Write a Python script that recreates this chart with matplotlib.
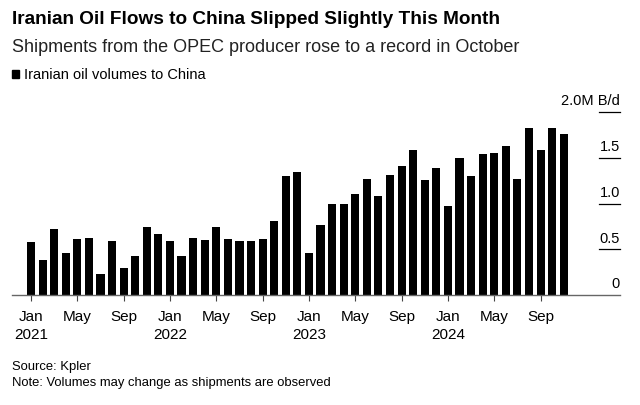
import matplotlib.pyplot as plt
import numpy as np

plt.rcParams['font.family'] = ['Liberation Sans', 'DejaVu Sans']

# monthly Iranian oil volumes to China, Jan 2021 - Nov 2024 (M b/d)
vol_2021 = [0.58, 0.38, 0.72, 0.46, 0.61, 0.62, 0.23, 0.59, 0.30, 0.43, 0.74, 0.67]
vol_2022 = [0.59, 0.43, 0.62, 0.60, 0.74, 0.61, 0.59, 0.59, 0.61, 0.81, 1.30, 1.34]
vol_2023 = [0.46, 0.76, 1.00, 1.00, 1.10, 1.27, 1.08, 1.31, 1.41, 1.59, 1.26, 1.39]
vol_2024 = [0.97, 1.50, 1.30, 1.54, 1.55, 1.63, 1.27, 1.82, 1.58, 1.82, 1.76]
volumes = vol_2021 + vol_2022 + vol_2023 + vol_2024

tick_pos = list(range(0, 47, 4))
tick_labels = ['Jan\n2021', 'May', 'Sep', 'Jan\n2022', 'May', 'Sep',
               'Jan\n2023', 'May', 'Sep', 'Jan\n2024', 'May', 'Sep']
y_ticks = [0, 0.5, 1.0, 1.5, 2.0]
y_labels = ['0', '0.5', '1.0', '1.5', '2.0M B/d']

fig = plt.figure(figsize=(6.4, 4.06), dpi=100)
ax = fig.add_axes([12 / 640, 110 / 406, 608 / 640, 183 / 406])

x = np.arange(len(volumes))
ax.bar(x, volumes, width=0.7, color='black')
ax.set_xlim(-1.64, 50.86)
ax.set_ylim(0, 2.0)

for s in ['top', 'right', 'left']:
    ax.spines[s].set_visible(False)
ax.spines['bottom'].set_color('#666666')
ax.spines['bottom'].set_linewidth(1)

ax.set_yticks([])
ax.set_xticks(tick_pos)
ax.set_xticklabels(tick_labels, fontsize=11, linespacing=1.4)
ax.tick_params(axis='x', length=4, color='#444444', pad=6)

# short gridlines and labels at the right
for v, lab in zip(y_ticks, y_labels):
    if v > 0:
        ax.plot([0.965, 1.0], [v, v], transform=ax.get_yaxis_transform(),
                color='black', lw=0.9, clip_on=False)
    ax.text(1.0, v + 0.05, lab, transform=ax.get_yaxis_transform(),
            ha='right', va='bottom', fontsize=10.5)

fig.text(12 / 640, 1 - 20 / 406, 'Iranian Oil Flows to China Slipped Slightly This Month',
         fontsize=13.7, fontweight='bold', va='center')
fig.text(12 / 640, 1 - 47 / 406, 'Shipments from the OPEC producer rose to a record in October',
         fontsize=13, va='center', color='#222222')
fig.patches.append(plt.Rectangle((12 / 640, 1 - 79 / 406), 7 / 640, 8 / 406,
                                 transform=fig.transFigure, color='black'))
fig.text(24 / 640, 1 - 75 / 406, 'Iranian oil volumes to China', fontsize=10.5, va='center')

fig.text(12 / 640, 1 - 367 / 406, 'Source: Kpler', fontsize=9.4, va='center')
fig.text(12 / 640, 1 - 383 / 406, 'Note: Volumes may change as shipments are observed',
         fontsize=9.4, va='center')

fig.savefig('out.png', dpi=100)
